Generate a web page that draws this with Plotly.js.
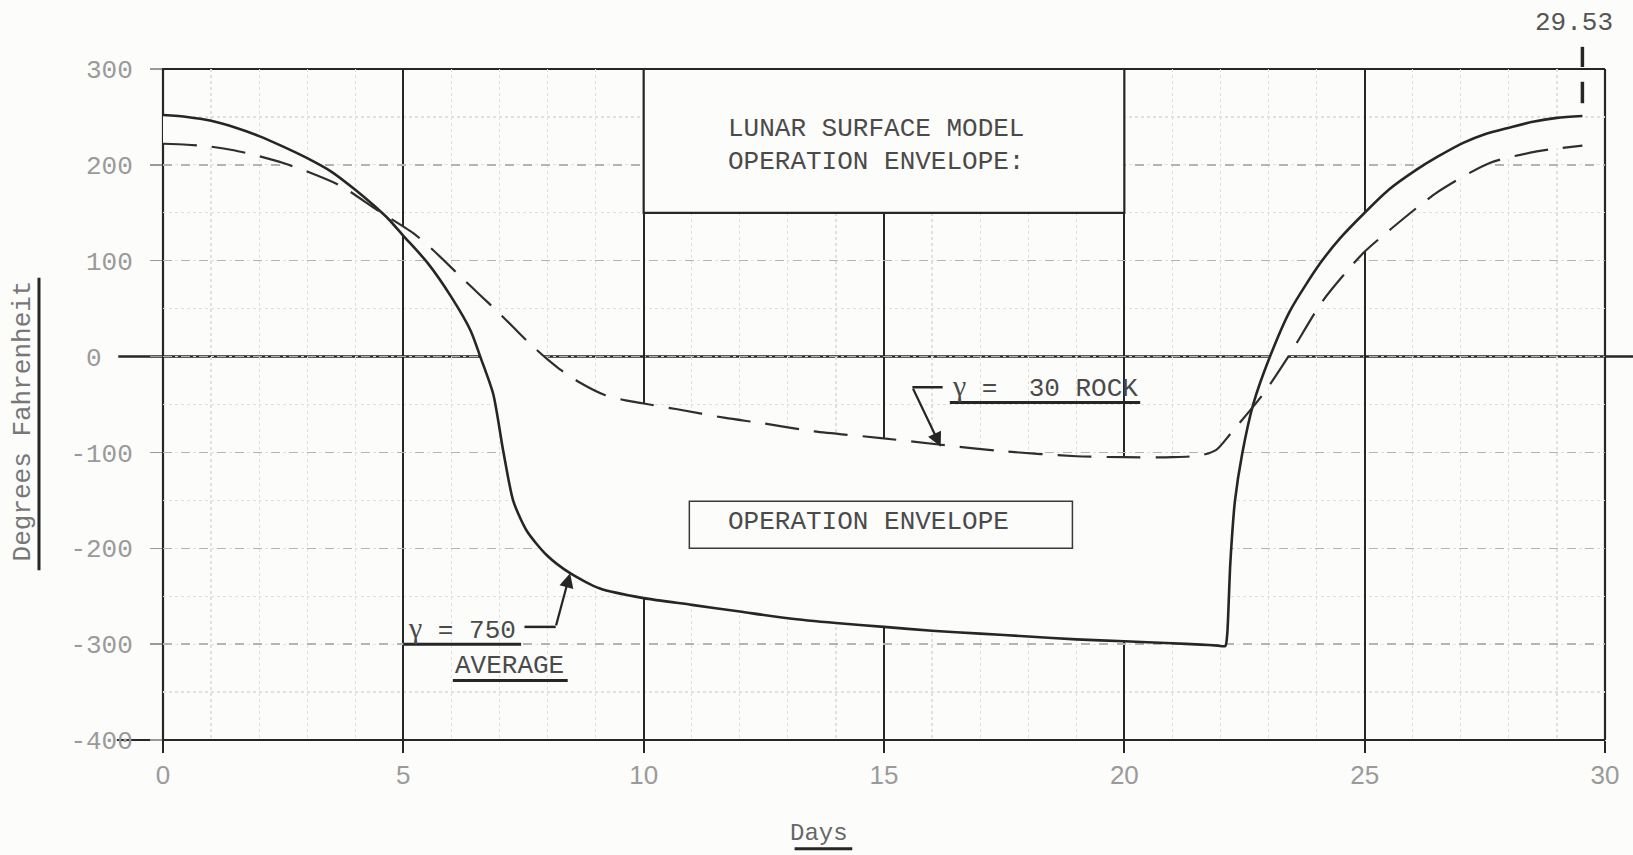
<!DOCTYPE html>
<html>
<head>
<meta charset="utf-8">
<script src="https://cdn.plot.ly/plotly-3.0.1.min.js"></script>
<style>
  html, body { margin: 0; padding: 0; background: #fcfcfb; }
  #chart { width: 1633px; height: 855px; }
</style>
</head>
<body>
<div id="chart"></div>
<script>
// Lunar surface temperature through one lunation (days vs. degrees F)

// gamma = 750, average surface
const avgDays = [0, 0.5, 1, 1.5, 2, 2.5, 3, 3.5, 4, 4.4, 4.7, 5, 5.5, 6, 6.4, 6.6, 6.87, 7.08, 7.29, 7.57, 7.98, 8.47, 9.09, 10, 11, 12, 13, 14, 15, 16, 17, 18, 19, 20, 21, 21.6, 21.95, 22.1, 22.14, 22.17, 22.2, 22.24, 22.3, 22.45, 22.68, 23.03, 23.45, 24.07, 24.5, 25, 25.5, 26.08, 26.5, 27.05, 27.5, 28.02, 28.5, 29, 29.53];
const avgTemp = [252, 250, 246, 239, 230, 219, 207, 193, 174, 157, 143, 126, 98, 62, 27, 0, -39, -99, -151, -182, -207, -226, -242, -252, -259, -266, -273, -278, -282, -286, -289, -292, -295, -297, -299, -300.5, -301.5, -302, -290, -258, -220, -188, -151, -102, -50, 0, 48, 97, 124, 150, 174, 195, 208, 223, 232, 239, 245, 249, 251];

// gamma = 30, rock
const rockDays = [0, 0.5, 1, 1.5, 2, 2.5, 3, 3.7, 4.45, 5.2, 5.6, 6.2, 6.6, 7.0, 7.3, 7.6, 8.0, 8.25, 8.67, 9.19, 9.65, 10.0, 10.7, 11.7, 12.4, 13.55, 14.94, 16.18, 17.53, 19.0, 20.0, 21.0, 21.6, 21.92, 22.2, 22.89, 23.45, 24.14, 24.97, 25.52, 26.5, 27.6, 28.58, 29, 29.53];
const rockTemp = [222, 221, 219, 215, 209, 202, 193, 178, 153, 129, 112, 83, 64, 45, 30, 15, -3, -13, -27, -40, -46, -49, -55, -64, -69, -78, -85, -92, -99, -104, -105, -105, -103, -97, -81, -39, 3, 59, 108, 132, 171, 202, 214, 217, 220];

const xTickVals = [0, 5, 10, 15, 20, 25, 30];
const xTickText = ['0', '5', '10', '15', '20', '25', '30'];
const yTickVals = [300, 200, 100, 0, -100, -200, -300, -400];
const yTickText = ['300', '200', '100', '0\u00a0\u00a0', '-100', '-200', '-300', '-400'];

const lunarDay = 29.53;
const xRange = [0, 30];
const yRange = [-400, 300];

const BG = '#fcfcfb';
const INK = '#262626';
const TYPE = 'Liberation Mono, Courier New, monospace';
const GAMMA = '<span style="font-family:Liberation Serif, serif;font-size:30px">γ</span>';

// paper fraction for a temperature value
const py = v => (v - yRange[0]) / (yRange[1] - yRange[0]);

const SMOOTH = 0.7;
const traces = [
  // blank envelope between the two curves (erases the graph-paper grid)
  { x: avgDays, y: avgTemp, mode: 'lines', line: { width: 0, shape: 'spline', smoothing: SMOOTH }, hoverinfo: 'skip', showlegend: false },
  { x: rockDays, y: rockTemp, mode: 'lines', fill: 'tonexty', fillcolor: BG, line: { width: 0, shape: 'spline', smoothing: SMOOTH }, hoverinfo: 'skip', showlegend: false },
  // curves
  { x: avgDays, y: avgTemp, mode: 'lines', name: 'γ = 750 AVERAGE', line: { color: INK, width: 2.6, shape: 'spline', smoothing: SMOOTH } },
  { x: rockDays, y: rockTemp, mode: 'lines', name: 'γ = 30 ROCK', line: { color: '#2e2e2e', width: 2.2, dash: '34px,15px', shape: 'spline', smoothing: SMOOTH } }
];

const line = (x0, x1, y0, y1, w, extra) => Object.assign({
  type: 'line', xref: 'x', yref: 'y', x0, x1, y0, y1, layer: 'above',
  line: { color: INK, width: w }
}, extra || {});

const shapes = [
  // heavy frame and zero line
  { type: 'line', xref: 'paper', yref: 'paper', x0: -0.032, x1: 1, y0: 0, y1: 0, layer: 'below', line: { color: INK, width: 2.2 } },
  { type: 'line', xref: 'paper', yref: 'paper', x0: -0.006, x1: 1, y0: 1, y1: 1, layer: 'below', line: { color: INK, width: 2.2 } },
  { type: 'line', xref: 'paper', yref: 'paper', x0: 0, x1: 0, y0: 0, y1: 1, layer: 'below', line: { color: INK, width: 2.2 } },
  { type: 'line', xref: 'paper', yref: 'paper', x0: 1, x1: 1, y0: 0, y1: 1, layer: 'below', line: { color: INK, width: 2.2 } },
  { type: 'line', xref: 'paper', yref: 'paper', x0: -0.031, x1: 1.02, y0: py(0), y1: py(0), layer: 'below', line: { color: INK, width: 2.4 } },
  // title block
  { type: 'rect', xref: 'x', yref: 'y', x0: 10, x1: 20, y0: 150, y1: 300, layer: 'between', fillcolor: BG, line: { color: INK, width: 2.2 } },
  // operation envelope label box
  { type: 'rect', xref: 'x', yref: 'y', x0: 10.95, x1: 18.92, y0: -200, y1: -151, layer: 'above', line: { color: '#3a3a3a', width: 1.5 } },
  // underlines and leaders
  line(16.37, 20.33, -48, -48, 3),
  line(15.59, 16.22, -32, -32, 2.5),
  line(5.0, 7.45, -300, -300, 3),
  line(6.03, 8.42, -338, -338, 3),
  line(7.52, 8.17, -282, -282, 2.5),
  // axis title underlines
  { type: 'line', xref: 'paper', yref: 'paper', x0: -0.086, x1: -0.086, y0: 0.253, y1: 0.689, layer: 'above', line: { color: INK, width: 3 } },
  { type: 'line', xref: 'paper', yref: 'paper', x0: 0.438, x1: 0.478, y0: -0.162, y1: -0.162, layer: 'above', line: { color: INK, width: 3 } },
  // lunation length marker
  { type: 'line', xref: 'paper', yref: 'paper', x0: lunarDay / 30, x1: lunarDay / 30, y0: 1.003, y1: 1.033, layer: 'above', line: { color: INK, width: 3.5 } },
  { type: 'line', xref: 'paper', yref: 'paper', x0: lunarDay / 30, x1: lunarDay / 30, y0: 0.949, y1: 0.981, layer: 'above', line: { color: INK, width: 3.5 } }
];

const txt = (text, x, y, extra) => Object.assign({
  text, x, y, xref: 'x', yref: 'y', showarrow: false, xanchor: 'left', yanchor: 'middle',
  font: { family: TYPE, size: 26, color: '#4a4a4a' }
}, extra || {});

const arrow = (x, y, ax, ay) => ({
  text: '', x, y, ax, ay, xref: 'x', yref: 'y', axref: 'x', ayref: 'y',
  showarrow: true, arrowhead: 2, arrowsize: 1.3, arrowwidth: 2.2, arrowcolor: INK, standoff: 0
});

const annotations = [
  txt('LUNAR SURFACE MODEL', 11.72, 237),
  txt('OPERATION ENVELOPE:', 11.72, 203),
  txt('OPERATION ENVELOPE', 11.72, -173),
  txt(GAMMA + ' =  30 ROCK', 16.37, -31),
  txt(GAMMA + ' = 750', 5.06, -284),
  txt('AVERAGE', 6.03, -323),
  arrow(16.18, -94, 15.59, -32),
  arrow(8.47, -226, 8.17, -282),
  txt(String(lunarDay), 29.35, 1.068, { yref: 'paper', xanchor: 'center', font: { family: TYPE, size: 26, color: '#555' } }),
  { text: 'Degrees Fahrenheit', xref: 'paper', yref: 'paper', x: -0.097, y: 0.475, showarrow: false,
    textangle: -90, xanchor: 'center', yanchor: 'middle', font: { family: TYPE, size: 26, color: '#777' } },
  { text: 'Days', xref: 'paper', yref: 'paper', x: 0.455, y: -0.139, showarrow: false,
    xanchor: 'center', yanchor: 'middle', font: { family: TYPE, size: 24, color: '#666' } }
];

const layout = {
  width: 1633, height: 855,
  margin: { l: 163, r: 28, t: 69, b: 115 },
  paper_bgcolor: BG,
  plot_bgcolor: 'rgba(0,0,0,0)',
  showlegend: false,
  hovermode: false,
  xaxis: {
    range: xRange, tickmode: 'array', tickvals: xTickVals, ticktext: xTickText,
    ticks: 'outside', ticklen: 12, tickwidth: 2.2, tickcolor: INK, ticklabelstandoff: 0,
    tickfont: { family: 'Liberation Sans, Arial, sans-serif', size: 26, color: '#9a9a9a' },
    showgrid: true, gridcolor: INK, gridwidth: 2,
    minor: { dtick: 1, tick0: 0, showgrid: true, gridcolor: '#e0e0e0', griddash: 'dot', gridwidth: 1.2, ticks: '' },
    zeroline: false, showline: false, fixedrange: true
  },
  yaxis: {
    range: yRange, tickmode: 'array', tickvals: yTickVals, ticktext: yTickText,
    ticks: 'outside', ticklen: 12, tickwidth: 1.5, tickcolor: '#999', ticklabelstandoff: 12,
    tickfont: { family: TYPE, size: 26, color: '#9a9a9a' },
    showgrid: true, gridcolor: '#b4b4b4', gridwidth: 1.3, griddash: 'dash',
    minor: { dtick: 50, tick0: 0, showgrid: true, gridcolor: '#e0e0e0', griddash: 'dot', gridwidth: 1.2, ticks: '' },
    zeroline: false, showline: false, fixedrange: true
  },
  shapes, annotations
};

Plotly.newPlot('chart', traces, layout, { staticPlot: true, displayModeBar: false });
</script>
</body>
</html>
